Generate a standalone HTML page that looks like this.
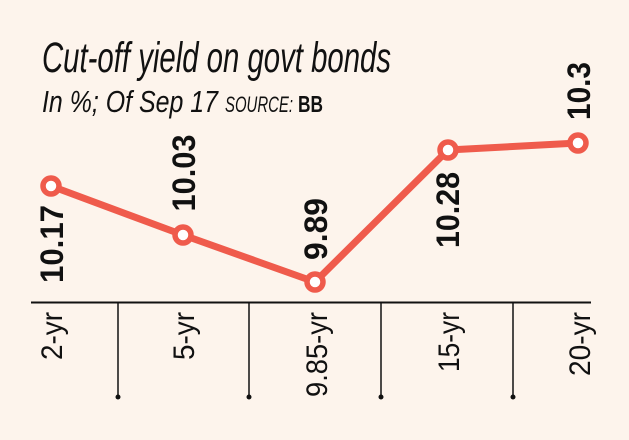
<!DOCTYPE html>
<html><head><meta charset="utf-8"><style>
html,body{margin:0;padding:0;background:#fdf4ec;}
svg{display:block;}
</style></head><body>
<svg width="629" height="440" viewBox="0 0 629 440" xmlns="http://www.w3.org/2000/svg">
<rect width="629" height="440" fill="#fdf4ec"/>
<g font-family="Liberation Sans, sans-serif" fill="#111">
<text x="42" y="72" font-size="43" font-style="italic" textLength="349" lengthAdjust="spacingAndGlyphs">Cut-off yield on govt bonds</text>
<text x="42" y="112" font-size="31" font-style="italic" textLength="176" lengthAdjust="spacingAndGlyphs">In %; Of Sep 17</text>
<text x="225" y="112" font-size="22" font-style="italic" textLength="68" lengthAdjust="spacingAndGlyphs">SOURCE:</text>
<text x="298" y="112" font-size="23" font-weight="bold" textLength="25" lengthAdjust="spacingAndGlyphs">BB</text>
</g>
<line x1="31" y1="302.5" x2="591" y2="302.5" stroke="#111" stroke-width="2"/>
<g stroke="#111" stroke-width="1.5">
<line x1="118" y1="302" x2="118" y2="397"/><line x1="249" y1="302" x2="249" y2="397"/>
<line x1="381" y1="302" x2="381" y2="397"/><line x1="513" y1="302" x2="513" y2="397"/>
</g>
<g fill="#111"><circle cx="118" cy="397" r="2.5"/><circle cx="249" cy="397" r="2.5"/><circle cx="381" cy="397" r="2.5"/><circle cx="513" cy="397" r="2.5"/></g>
<polyline points="51,186 183,235 315,282 448,150 578,143" fill="none" stroke="#ef5b4c" stroke-width="7" stroke-linejoin="round"/>
<g fill="#fff" stroke="#ef5b4c" stroke-width="5.5">
<circle cx="51" cy="186" r="8"/><circle cx="183" cy="235" r="8"/><circle cx="315" cy="282" r="8"/><circle cx="448" cy="150" r="8"/><circle cx="578" cy="143" r="8"/>
</g>
<g font-family="Liberation Sans, sans-serif" font-weight="bold" font-size="32" fill="#111" text-anchor="middle">
<text transform="translate(63,244) rotate(-90)" textLength="78" lengthAdjust="spacingAndGlyphs">10.17</text>
<text transform="translate(195,173) rotate(-90)" textLength="77" lengthAdjust="spacingAndGlyphs">10.03</text>
<text transform="translate(327,229) rotate(-90)" textLength="62" lengthAdjust="spacingAndGlyphs">9.89</text>
<text transform="translate(459,210) rotate(-90)" textLength="76" lengthAdjust="spacingAndGlyphs">10.28</text>
<text transform="translate(590,91) rotate(-90)" textLength="58" lengthAdjust="spacingAndGlyphs">10.3</text>
</g>
<g font-family="Liberation Sans, sans-serif" font-size="30" fill="#111" text-anchor="end">
<text transform="translate(62,312) rotate(-90)" textLength="48" lengthAdjust="spacingAndGlyphs">2-yr</text>
<text transform="translate(194,312) rotate(-90)" textLength="48" lengthAdjust="spacingAndGlyphs">5-yr</text>
<text transform="translate(327,312) rotate(-90)" textLength="85" lengthAdjust="spacingAndGlyphs">9.85-yr</text>
<text transform="translate(459,312) rotate(-90)" textLength="60" lengthAdjust="spacingAndGlyphs">15-yr</text>
<text transform="translate(590,312) rotate(-90)" textLength="64" lengthAdjust="spacingAndGlyphs">20-yr</text>
</g>
</svg>
</body></html>
